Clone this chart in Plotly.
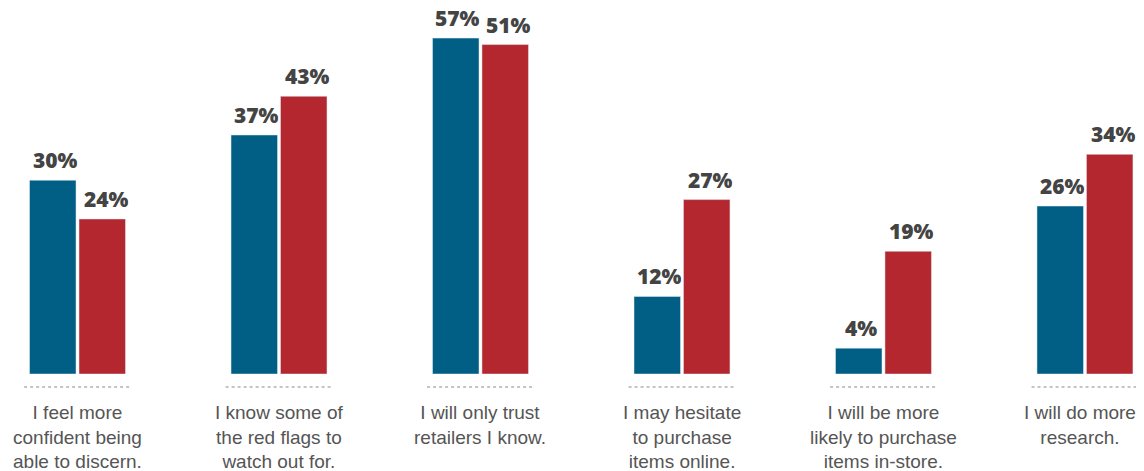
import plotly.graph_objects as go

# data
categories = ['I feel more<br>confident being<br>able to discern.',
              'I know some of<br>the red flags to<br>watch out for.',
              'I will only trust<br>retailers I know.',
              'I may hesitate<br>to purchase<br>items online.',
              'I will be more<br>likely to purchase<br>items in-store.',
              'I will do more<br>research.']
blue_labels = ['30%', '37%', '57%', '12%', '4%', '26%']
red_labels = ['24%', '43%', '51%', '27%', '19%', '34%']
# bar heights as drawn (the 57% bar is drawn shorter than its label)
blue_values = [30, 37, 52, 12, 4, 26]
red_values = [24, 43, 51, 27, 19, 34]

BLUE = '#015e84'
RED = '#b5272f'
LABEL_COLOR = '#444444'
CAT_COLOR = '#555555'

x_idx = list(range(len(categories)))

fig = go.Figure()
fig.add_trace(go.Bar(x=x_idx, y=blue_values, marker_color=BLUE, name='blue'))
fig.add_trace(go.Bar(x=x_idx, y=red_values, marker_color=RED, name='red'))

annotations = []
shapes = []
for i in x_idx:
    for val, lab, shift in [(blue_values[i], blue_labels[i], -25.5),
                            (red_values[i], red_labels[i], 25.5)]:
        annotations.append(dict(x=i, y=val, xref='x', yref='y', text=lab,
                                showarrow=False, xshift=shift + 3, yshift=5, yanchor='bottom',
                                borderpad=0, height=22, valign='bottom',
                                font=dict(family='Open Sans', size=21, weight=800,
                                          color=LABEL_COLOR)))
    # last label sits against the right edge
    annotations.append(dict(x=i, y=-0.071, xref='x', yref='paper', text=categories[i],
                            showarrow=False, yanchor='top', align='center',
                            xshift=-5 if i == len(categories) - 1 else 0,
                            font=dict(family='Liberation Sans', size=19, color=CAT_COLOR)))
    shapes.append(dict(type='line', xref='x', yref='paper', x0=i - 0.265, x1=i + 0.27,
                       y0=-0.0355, y1=-0.0355, line=dict(color='#8a8a8a', width=1, dash='dot')))

# page body adds an 8px offset, so the figure is a little smaller than the window
fig.update_layout(
    width=1136, height=463,
    margin=dict(l=0, r=0, t=0, b=97),
    plot_bgcolor='white', paper_bgcolor='white',
    barmode='group', bargap=0.509, bargroupgap=0.06,
    showlegend=False,
    annotations=annotations, shapes=shapes,
)
fig.update_xaxes(range=[-0.345, 5.293], showticklabels=False, showgrid=False,
                 zeroline=False, showline=False)
fig.update_yaxes(range=[0, 56.66], visible=False)

fig.write_html("out.html")
